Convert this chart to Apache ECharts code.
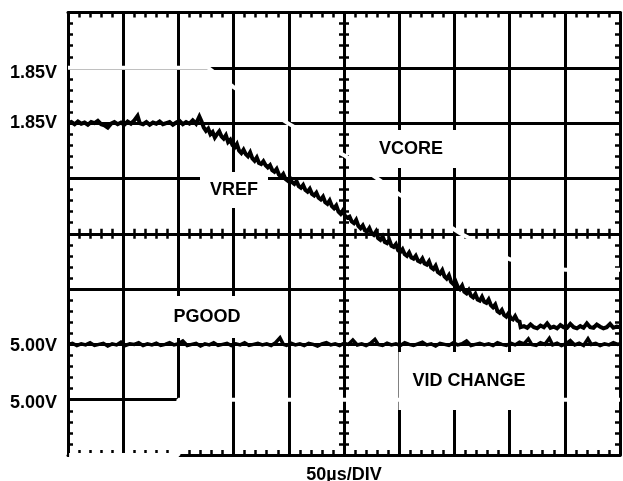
<!DOCTYPE html>
<html><head><meta charset="utf-8">
<script src="https://cdn.jsdelivr.net/npm/echarts@6/dist/echarts.min.js"></script>
<style>html,body{margin:0;padding:0;background:#fff}#c{width:623px;height:481px}</style>
</head><body><div id="c"></div>
<script>
// ---- data (time in microseconds, amplitude in screen divisions 0..8) ----
const timeRange = [0, 500];          // 10 div x 50us
const divRange = [0, 8];             // 8 vertical divisions
const timeStep = 50;
const xAxisTitle = '50µs/DIV';
const yTickDivs = [7, 6, 2, 1];
const yTickLabels = ['1.85V', '1.85V', '5.00V', '5.00V'];
const traceNames = ['VCORE', 'VID CHANGE', 'VREF', 'PGOOD'];

const vcore = [[0,7.0],[127,7.0],[150,6.65],[199,6.0],[250,5.42],[280,5.0],[301,4.7],[356,4.0],[400,3.54],[430,3.38],[451,3.35],[500,3.35]];
const vidChange = [[1,0],[100,0],[100,1.0],[500,1.0]];
const vref = [
[0,6.00],[3,6.02],[6,5.98],[9,6.03],[12,5.99],[15,6.01],[18,5.97],[21,6.02],[24,6.00],[27,6.04],[30,5.98],[33,5.96],[36,5.92],[39,5.99],[42,6.02],[45,5.98],[48,6.01],[51,5.97],[54,6.03],[57,5.99],[60,6.05],[63,6.13],[65,6.00],[68,5.98],[71,6.02],[74,5.97],[77,6.01],[80,5.99],[83,6.03],[86,5.98],[89,6.00],[92,6.02],[95,5.97],[98,6.01],[101,6.04],[104,5.98],[107,6.02],[110,5.99],[113,6.05],[116,5.99],[119,6.12],[121,6.03],
[123,5.92],[125,5.86],[127,5.90],[129,5.80],[131,5.84],[133,5.74],[135,5.80],[137,5.85],[139,5.76],[141,5.72],[143,5.78],[145,5.66],[147,5.70],[149,5.60],[151,5.56],[153,5.62],[155,5.50],[157,5.46],[159,5.52],[161,5.44],[163,5.40],[165,5.47],[167,5.36],[169,5.32],[171,5.38],[173,5.28],[175,5.26],[177,5.31],[179,5.24],[181,5.20],[183,5.24],[185,5.15],[187,5.12],[189,5.17],[191,5.07],[193,5.03],[195,5.08],[197,4.99],[199,4.96],[201,5.01],[203,4.93],[205,4.90],[207,4.95],[209,4.86],[211,4.83],[213,4.88],[215,4.79],[217,4.76],[219,4.81],[221,4.72],[223,4.69],[225,4.74],[227,4.65],[229,4.62],[231,4.67],[233,4.57],[235,4.54],[237,4.60],[239,4.50],[241,4.46],[243,4.51],[245,4.40],[247,4.36],[249,4.42],[251,4.32],[253,4.29],
[255,4.31],[257,4.22],[259,4.19],[261,4.25],[263,4.14],[265,4.10],[267,4.15],[269,4.06],[271,4.04],[273,4.10],[275,4.01],[277,3.98],[279,4.04],[281,3.92],[283,3.89],[285,3.95],[287,3.85],[289,3.83],[291,3.89],[293,3.78],[295,3.76],[297,3.81],[299,3.70],[301,3.67],[303,3.72],[305,3.63],[307,3.60],[309,3.66],[311,3.57],[313,3.55],[315,3.60],[317,3.51],[319,3.49],[321,3.55],[323,3.46],[325,3.44],[327,3.50],[329,3.39],[331,3.36],[333,3.42],[335,3.31],[337,3.28],[339,3.34],[341,3.23],[343,3.19],[345,3.25],[347,3.13],[349,3.09],[351,3.14],[353,3.04],[355,3.00],[357,3.06],[359,2.95],[361,2.92],[363,2.98],[365,2.88],[367,2.85],[369,2.91],[371,2.81],[373,2.79],[375,2.86],[377,2.77],[379,2.75],[381,2.81],[383,2.71],[385,2.67],[387,2.72],[389,2.60],[391,2.57],[393,2.62],[395,2.53],[397,2.50],[399,2.56],[401,2.47],[403,2.45],[405,2.51],[407,2.43],[409,2.41],[410,2.31],
[413,2.33],[416,2.30],[419,2.36],[422,2.31],[425,2.29],[428,2.34],[431,2.31],[434,2.38],[437,2.30],[440,2.32],[443,2.29],[446,2.35],[449,2.31],[452,2.30],[455,2.37],[458,2.31],[461,2.29],[464,2.33],[467,2.30],[470,2.38],[473,2.31],[476,2.30],[479,2.36],[482,2.32],[485,2.29],[488,2.31],[491,2.37],[494,2.30],[497,2.32],[500,2.31]
];
const pgood = [
[0,2.00],[4,2.02],[8,1.98],[12,2.01],[16,1.99],[20,2.03],[24,1.98],[28,2.00],[32,2.02],[36,1.97],[40,2.01],[44,1.99],[48,2.04],[52,1.98],[56,2.01],[60,2.00],[64,2.03],[68,1.98],[72,2.01],[76,1.99],[80,2.02],[84,1.98],[88,2.00],[92,2.03],[96,1.99],[100,2.01],[104,2.06],[108,1.98],[112,2.00],[116,2.02],[120,1.97],[124,2.01],[128,1.99],[132,2.03],[136,1.98],[140,2.00],[144,2.02],[148,1.98],[152,2.01],[156,1.99],[160,2.03],[164,1.98],[168,2.00],[172,2.02],[176,1.99],[180,2.01],[184,1.98],[188,2.03],[192,2.12],[195,2.00],[198,1.98],[202,2.02],[206,1.99],[210,2.01],[214,1.98],[218,2.02],[222,2.00],[226,1.97],[230,2.01],[234,2.03],[238,1.99],[242,2.01],[246,1.98],[250,2.02],[254,2.00],[258,2.08],[262,1.99],[266,2.01],[270,1.98],[274,2.02],[278,2.09],[281,2.00],[285,1.98],[289,2.02],[293,1.99],[297,2.01],[301,1.98],[305,2.03],[309,2.00],[313,1.98],[317,2.01],[321,2.04],[325,1.99],[329,2.01],[333,1.97],[337,2.02],[341,2.00],[345,1.98],[349,2.03],[353,1.99],[357,2.01],[361,2.06],[365,1.98],[369,2.00],[373,2.02],[377,1.99],[381,2.01],[385,1.98],[389,2.03],[393,2.00],[397,1.98],[401,2.02],[405,1.99],[409,2.04],[413,2.01],[417,2.10],[420,2.00],[424,1.98],[428,2.03],[432,2.00],[436,2.11],[439,1.99],[443,2.02],[447,1.98],[451,2.01],[455,2.07],[459,1.99],[463,2.02],[467,1.98],[471,2.10],[474,2.00],[478,2.02],[482,1.98],[486,2.01],[490,1.99],[494,2.03],[498,2.00],[500,2.01]
];

// ---- styling / layout ----
const FONT = '"Liberation Sans", Arial, Helvetica, sans-serif';
const G = {left: 68, top: 12.5, width: 552, height: 442.5};
const tickStyle = {color: '#000', width: 2.5};
const labelShift = {7: 10, 6: 0, 2: 4, 1: 6};

function xAx(pos, extra) {
  return Object.assign({
    type: 'value', min: timeRange[0], max: timeRange[1], interval: timeStep, position: pos,
    axisLine: {show: true, onZero: false, lineStyle: {color: '#000', width: 3}},
    axisTick: {show: true, inside: true, length: 5, lineStyle: tickStyle},
    minorTick: {show: true, splitNumber: 5, length: 5, lineStyle: tickStyle},
    axisLabel: {show: false}, splitLine: {show: false}
  }, extra || {});
}
function yAx(pos, extra) {
  return Object.assign({
    type: 'value', min: divRange[0], max: divRange[1], interval: 1, position: pos,
    axisLine: {show: true, onZero: false, lineStyle: {color: '#000', width: 3}},
    axisTick: {show: true, inside: true, length: 5, lineStyle: tickStyle},
    minorTick: {show: true, splitNumber: 5, length: 5, lineStyle: tickStyle},
    axisLabel: {show: false}, splitLine: {show: false}
  }, extra || {});
}

const rich = {};
Object.keys(labelShift).forEach(k => {
  rich['s' + k] = {color: '#000', fontWeight: 'bold', fontSize: 18, fontFamily: FONT, padding: [labelShift[k], 0, 0, 0]};
});

const chart = echarts.init(document.getElementById('c'), null, {renderer: 'canvas'});
chart.setOption({
  animation: false,
  backgroundColor: '#fff',
  grid: Object.assign({show: false, containLabel: false, outerBoundsMode: 'none'}, G),
  xAxis: [
    xAx('bottom', {
      splitLine: {show: true, lineStyle: {color: '#000', width: 3}},
      name: xAxisTitle, nameLocation: 'middle', nameGap: 11,
      nameTextStyle: {color: '#000', fontWeight: 'bold', fontSize: 18, fontFamily: FONT}
    }),
    xAx('top'),
    xAx('top', {
      offset: -(G.height / 2 - 5), axisLine: {show: false, onZero: false},
      axisTick: {show: true, inside: true, length: 10, lineStyle: tickStyle},
      minorTick: {show: true, splitNumber: 5, length: 10, lineStyle: tickStyle}
    })
  ],
  yAxis: [
    yAx('left', {
      splitLine: {show: true, lineStyle: {color: '#000', width: 3}},
      axisLabel: {
        show: true, margin: 11, color: '#000', fontWeight: 'bold', fontSize: 18, fontFamily: FONT,
        formatter: v => {
          const i = yTickDivs.indexOf(v);
          return i < 0 ? '' : '{s' + v + '|' + yTickLabels[i] + '}';
        },
        rich: rich
      }
    }),
    yAx('right'),
    yAx('left', {
      offset: -(G.width / 2 - 5), axisLine: {show: false, onZero: false},
      axisTick: {show: true, inside: true, length: 10, lineStyle: tickStyle},
      minorTick: {show: true, splitNumber: 5, length: 10, lineStyle: tickStyle}
    })
  ],
  series: [
    {name: traceNames[0], type: 'line', data: vcore, showSymbol: false, clip: false, z: 3,
     lineStyle: {color: '#fff', width: 4}},
    {name: traceNames[1], type: 'line', data: vidChange, showSymbol: false, clip: false, z: 3,
     lineStyle: {color: '#fff', width: 4}},
    {name: traceNames[2], type: 'line', data: vref, showSymbol: false, clip: false, z: 4,
     lineStyle: {color: '#000', width: 4, join: 'miter'}},
    {name: traceNames[3], type: 'line', data: pgood, showSymbol: false, clip: false, z: 4,
     lineStyle: {color: '#000', width: 3.5, join: 'miter'}}
  ],
  graphic: [
    {type: 'text', x: 411, y: 149, z: 100, style: {text: traceNames[0], font: 'bold 18px ' + FONT, fill: '#000', align: 'center', verticalAlign: 'middle', backgroundColor: '#fff', padding: [10, 18]}},
    {type: 'text', x: 234, y: 190, z: 100, style: {text: traceNames[2], font: 'bold 18px ' + FONT, fill: '#000', align: 'center', verticalAlign: 'middle', backgroundColor: '#fff', padding: [9, 10]}},
    {type: 'text', x: 207, y: 317, z: 100, style: {text: traceNames[3], font: 'bold 18px ' + FONT, fill: '#000', align: 'center', verticalAlign: 'middle', backgroundColor: '#fff', padding: [12, 6]}},
    {type: 'text', x: 469, y: 381, z: 100, style: {text: traceNames[1], font: 'bold 18px ' + FONT, fill: '#000', align: 'center', verticalAlign: 'middle', backgroundColor: '#fff', padding: [20, 14]}}
  ]
});
</script></body></html>
